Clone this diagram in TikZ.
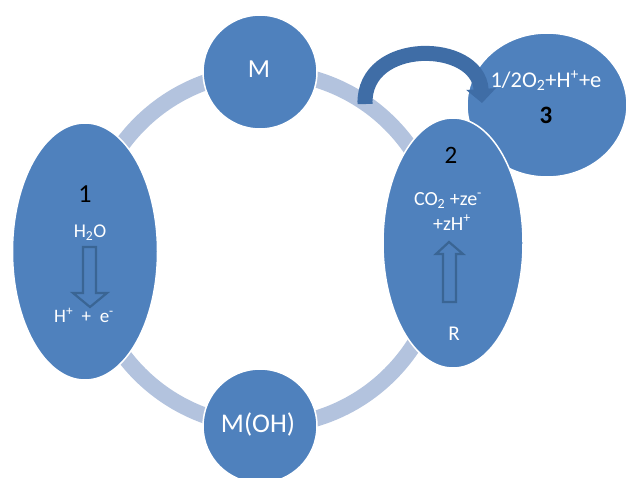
\documentclass[tikz,border=0pt]{standalone}
\usepackage{fontspec}
\setmainfont{Carlito}
\usetikzlibrary{shapes.geometric,arrows.meta}
\definecolor{blobc}{HTML}{4F81BD}
\definecolor{ringc}{HTML}{B3C3DE}
\definecolor{arrc}{HTML}{3F6DA6}
\definecolor{hollowc}{HTML}{3A6594}
\begin{document}
\begin{tikzpicture}[x=1pt,y=-1pt,
  blob/.style={fill=blobc, draw=white, line width=1.5pt, inner sep=0pt, outer sep=0pt},
  wtxt/.style={text=white, inner sep=0pt, anchor=base},
  ktxt/.style={text=black, inner sep=0pt, anchor=base},
  hollow/.style={fill=blobc, draw=hollowc, line width=2.2pt, line join=miter}]
\useasboundingbox (0,0) rectangle (626,477);
\coordinate (rc) at (265,249);
\draw[ringc, line width=16pt] (rc) circle[radius=177];
\node[blob, ellipse, minimum width=160pt, minimum height=144pt] (n3) at (547,105) {};
\node[blob, ellipse, minimum width=140pt, minimum height=250pt] (n2) at (453,243) {};
\node[blob, ellipse, minimum width=145pt, minimum height=257pt] (n1) at (85,251.5) {};
\node[blob, circle, minimum size=114pt] (m) at (260,72) {};
\node[blob, circle, minimum size=114pt] (moh) at (260,426) {};
% curved block arrow
\coordinate (ca) at (365,104);
\coordinate (cb) at (482,103);
\draw[arrc, line width=15pt, -{Triangle[width=29pt,length=14pt]}] (ca) .. controls (363,38) and (478,40) .. (cb);
% hollow arrows
\draw[hollow] (83,247) -- (96,247) -- (96,293) -- (107,293) -- (90,307) -- (73,293) -- (83,293) -- cycle;
\draw[hollow] (443,302) -- (456,302) -- (456,254) -- (463,254) -- (449,242) -- (436,254) -- (443,254) -- cycle;
% texts
\node[ktxt] (l1) at (85,202) {\fontsize{26}{30}\selectfont 1};
\node[wtxt] (h2o) at (90,237) {\fontsize{19.5}{23}\selectfont H\textsubscript{2}O};
\node[wtxt] (hpe) at (84,322) {\fontsize{19}{23}\selectfont H\textsuperscript{+}\ \ +\ \ e\textsuperscript{-}};
\node[ktxt] (l2) at (451,163) {\fontsize{25}{29}\selectfont 2};
\node[wtxt] (co2) at (448,205) {\fontsize{20}{24}\selectfont CO\textsubscript{2} +ze\textsuperscript{-}};
\node[wtxt] (zh) at (452,230) {\fontsize{20}{24}\selectfont +zH\textsuperscript{+}};
\node[wtxt] (r) at (454,340) {\fontsize{21}{25}\selectfont R};
\node[wtxt] (lm) at (259,77) {\fontsize{26}{30}\selectfont M};
\node[wtxt] (lmoh) at (258,432) {\fontsize{27}{31}\selectfont M(OH)};
\node[wtxt] (o2) at (546,87) {\fontsize{22.5}{26}\selectfont 1/2O\textsubscript{2}+H\textsuperscript{+}+e};
\node[ktxt] (l3) at (546,123) {\fontsize{25}{29}\selectfont\bfseries 3};
\end{tikzpicture}
\end{document}
